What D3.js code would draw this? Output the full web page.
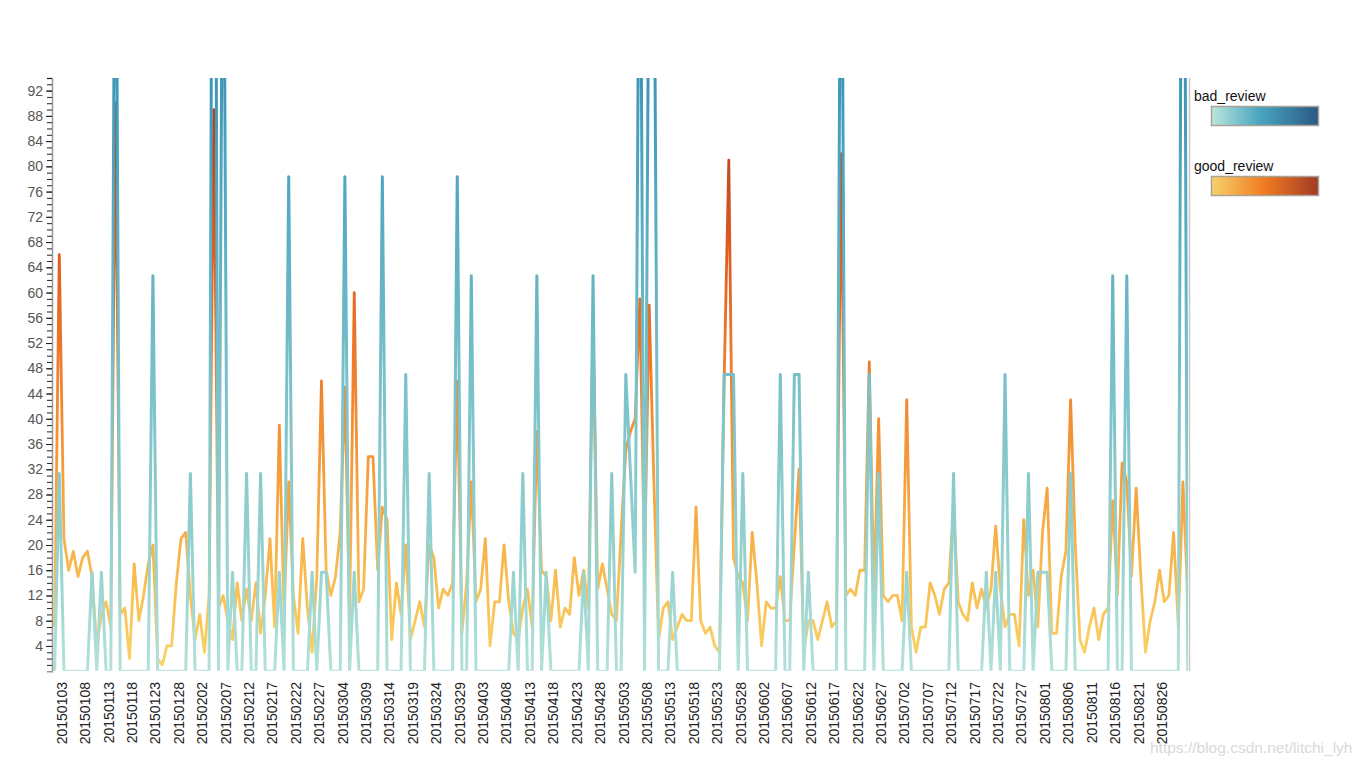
<!DOCTYPE html>
<html><head><meta charset="utf-8">
<script src="https://cdn.jsdelivr.net/npm/d3@7"></script>
<style>
body{margin:0;background:#fff;}
text{font-family:"Liberation Sans",Arial,sans-serif;}
</style>
</head><body><svg id="c" width="1366" height="768"></svg>
<script>
// ---------------- DATA ----------------
const startDate = "20150102";
const goodReview = [
 7,66,21,16,19,15,18,19,15,4, 9,11,7,90,9,10,2,17,8,12,
 17,20,2,1,4,4,14,21,22,12, 5,9,3,12,89,10,12,8,5,14,
 8,13,8,14,6,12,21,7,39,9, 30,12,6,21,10,3,15,46,16,12,
 15,22,45,8,60,11,13,34,34,16, 26,24,5,14,9,20,5,8,11,7,
 20,18,10,13,12,14,46,6,14,30, 11,13,21,4,11,11,20,11,6,5,
 10,13,7,38,16,15,8,16,7,10, 9,18,12,16,10,55,13,17,13,9,
 8,22,35,38,40,59,16,58,30,5, 10,11,5,7,9,8,8,26,8,6,
 7,4,3,46,81,18,15,14,8,22, 14,4,11,10,10,15,8,8,20,32,
 3,8,8,5,8,11,7,8,82,12, 13,12,16,16,49,12,40,12,11,12,
 12,8,43,7,3,7,7,14,12,9, 13,14,26,11,9,8,14,10,13,10,
 13,23,13,7,9,9,4,24,12,16, 7,22,29,6,6,15,19,43,20,5,
 3,7,10,5,9,10,27,12,33,30, 15,29,15,3,8,11,16,11,12,22,
 7,30,12
];
const badReview = [
 0,2,0,0,0,0,0,0,1,0, 1,0,0,9,0,0,0,0,0,0,
 0,4,0,0,0,0,0,0,0,2, 0,0,0,0,13,0,9,0,1,0,
 0,2,0,0,2,0,0,0,1,0, 5,0,0,0,0,1,0,1,1,0,
 0,0,5,0,1,0,0,0,0,0, 5,0,0,0,0,3,0,0,0,0,
 2,0,0,0,0,0,5,0,0,4, 0,0,0,0,0,0,0,0,1,0,
 2,0,0,4,0,1,0,0,0,0, 0,0,0,1,0,4,0,0,0,2,
 0,0,3,2,1,9,0,8,8,0, 0,0,1,0,0,0,0,0,0,0,
 0,0,0,3,3,3,0,2,0,0, 0,0,0,0,0,3,0,0,3,3,
 0,1,0,0,0,0,0,0,9,0, 0,0,0,0,3,0,2,0,0,0,
 0,0,1,0,0,0,0,0,0,0, 0,0,2,0,0,0,0,0,0,1,
 0,1,0,3,0,0,0,0,2,0, 1,1,1,0,0,0,0,2,0,0,
 0,0,0,0,0,0,4,0,0,4, 0,0,0,0,0,0,0,0,0,0,
 0,12,0
];
const xTickLabels = ["20150103","20150108","20150113","20150118","20150123","20150128",
 "20150202","20150207","20150212","20150217","20150222","20150227","20150304","20150309",
 "20150314","20150319","20150324","20150329","20150403","20150408","20150413","20150418",
 "20150423","20150428","20150503","20150508","20150513","20150518","20150523","20150528",
 "20150602","20150607","20150612","20150617","20150622","20150627","20150702","20150707",
 "20150712","20150717","20150722","20150727","20150801","20150806","20150811","20150816",
 "20150821","20150826"];
const yTickLabels = [4,8,12,16,20,24,28,32,36,40,44,48,52,56,60,64,68,72,76,80,84,88,92];
const goodMax = 94, badMax = 6;
const seriesNames = ["bad_review","good_review"];

// ---------------- LAYOUT ----------------
const svg = d3.select("#c");
const L = 52, R = 1188, T = 78, B = 671.2;
const parse = d3.timeParse("%Y%m%d"), fmt = d3.timeFormat("%Y%m%d");
const s0 = parse(startDate);
const dates = d3.timeDay.range(s0, d3.timeDay.offset(s0, goodReview.length)).map(fmt);

const x = d3.scalePoint().domain(dates).range([54.6, 54.6 + 4.682 * (dates.length - 1)]);
const yGood = d3.scaleLinear().domain([0, goodMax]).range([B, T]);
const yBad = d3.scaleLinear().domain([0, badMax]).range([B, T]);

const defs = svg.append("defs");
defs.append("clipPath").attr("id","plotclip").append("rect")
  .attr("x", L).attr("y", T).attr("width", R - L).attr("height", B - T - 0.4);

function vGrad(id, stops) {
  const g = defs.append("linearGradient").attr("id", id)
    .attr("gradientUnits","userSpaceOnUse").attr("x1",0).attr("x2",0)
    .attr("y1", B).attr("y2", T);
  stops.forEach(s => g.append("stop").attr("offset", s[0]).attr("stop-color", s[1]));
}
vGrad("gGood", [[0,"#f9d566"],[0.2,"#f7b54c"],[0.42,"#f38e33"],[0.7,"#e15c20"],[1,"#a53a27"]]);
vGrad("gBad",  [[0,"#b3e1da"],[0.17,"#98d3cf"],[0.5,"#78c0c9"],[0.83,"#4fa7bf"],[1,"#3c97b6"]]);

function hGrad(id, stops) {
  const g = defs.append("linearGradient").attr("id", id)
    .attr("x1","0%").attr("x2","100%").attr("y1","0%").attr("y2","0%");
  stops.forEach(s => g.append("stop").attr("offset", s[0]).attr("stop-color", s[1]));
}
hGrad("lBad",  [[0,"#bbe5dc"],[0.45,"#4aa5c0"],[1,"#2b5886"]]);
hGrad("lGood", [[0,"#f7d26c"],[0.5,"#f07a20"],[1,"#a03a25"]]);

// ---------------- LINES ----------------
const plot = svg.append("g").attr("clip-path","url(#plotclip)");
const lineBad = d3.line().x((d,i) => x(dates[i])).y(d => yBad(d));
const lineGood = d3.line().x((d,i) => x(dates[i])).y(d => yGood(d));
plot.append("path").datum(goodReview).attr("d", lineGood)
  .attr("fill","none").attr("stroke","url(#gGood)").attr("stroke-width",2.8)
  .attr("stroke-linejoin","round");
plot.append("path").datum(badReview).attr("d", lineBad)
  .attr("fill","none").attr("stroke","url(#gBad)").attr("stroke-width",3)
  .attr("stroke-linejoin","round");

// right border
svg.append("line").attr("x1", R + 1.5).attr("x2", R + 1.5).attr("y1", T).attr("y2", B)
  .attr("stroke","#c8c8c8").attr("stroke-width",1.5);

// ---------------- Y AXIS ----------------
const yAxisG = svg.append("g").attr("transform", `translate(${L},0)`);
const minor = d3.range(1, goodMax + 1);
yAxisG.call(d3.axisLeft(yGood).tickValues(minor).tickSize(5).tickFormat(""));
yAxisG.select(".domain").attr("stroke","#999").attr("stroke-width",1.5);
yAxisG.selectAll(".tick line").attr("stroke","#222");
const yLab = svg.append("g").attr("transform", `translate(${L},0)`);
yLab.call(d3.axisLeft(yGood).tickValues(yTickLabels).tickSize(6).tickPadding(3).tickFormat(d3.format("d")));
yLab.select(".domain").remove();
yLab.selectAll(".tick line").attr("stroke","#222");
yLab.selectAll(".tick text").attr("font-size",14).attr("fill","#555")
  .style("font-family","'Liberation Sans',Arial,sans-serif");

// ---------------- X LABELS ----------------
svg.append("g").selectAll("text").data(xTickLabels).join("text")
  .attr("transform", d => `translate(${x(d) + 2.5},${682}) rotate(-90)`)
  .attr("text-anchor","end").attr("dy","0.35em")
  .attr("font-size",14).attr("fill","#222").text(d => d);

// ---------------- LEGEND ----------------
const leg = svg.append("g");
[["lBad",96],["lGood",166]].forEach((g,k) => {
  leg.append("text").attr("x",1194).attr("y",g[1] + 5).attr("font-size",14).attr("fill","#111")
    .text(seriesNames[k]);
  leg.append("rect").attr("x",1211.5).attr("y",g[1] + 10.5).attr("width",107).attr("height",19)
    .attr("fill",`url(#${g[0]})`).attr("stroke","#a8a398").attr("stroke-width",1.5);
});

// watermark
svg.append("text").attr("x",1150).attr("y",753).attr("font-size",15.5).attr("fill","#d9d9d9")
  .text("https://blog.csdn.net/litchi_lyh");
</script>
</body></html>
